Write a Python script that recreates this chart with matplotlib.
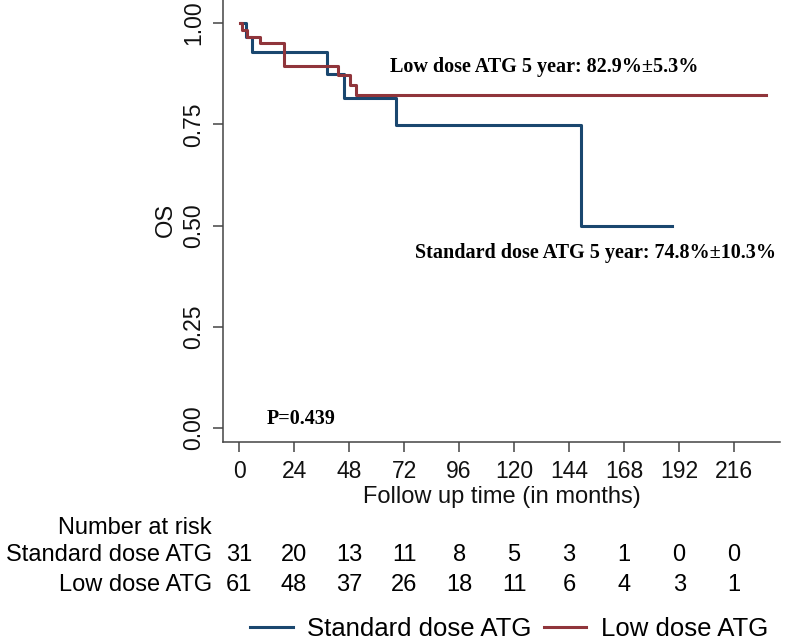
import numpy as np
import matplotlib
matplotlib.use("Agg")
import matplotlib.pyplot as plt
from matplotlib.lines import Line2D
from matplotlib.transforms import blended_transform_factory

# step curves (time in months, survival)
std_t = [0.7, 2.9, 5.8, 38.3, 46.0, 68.4, 149.3, 189.0]
std_s = [1.0, 0.966, 0.929, 0.874, 0.814, 0.748, 0.499, 0.499]
low_t = [0.4, 1.2, 3.3, 9.2, 19.8, 43.0, 48.5, 51.1, 230.0]
low_s = [1.0, 0.983, 0.966, 0.950, 0.895, 0.872, 0.847, 0.823, 0.823]

risk_times = [0, 24, 48, 72, 96, 120, 144, 168, 192, 216]
risk_std = [31, 20, 13, 11, 8, 5, 3, 1, 0, 0]
risk_low = [61, 48, 37, 26, 18, 11, 6, 4, 3, 1]

blue = "#1a476f"
red = "#90353b"
W, H = 786, 641

plt.rcParams["font.family"] = ["Liberation Sans", "DejaVu Sans"]

fig = plt.figure(figsize=(W / 100, H / 100), dpi=100)
ax = fig.add_axes([223 / W, 1 - 442 / H, (780 - 223) / W, 442 / H])

ax.step(std_t, std_s, where="post", color=blue, lw=2.2)
ax.step(low_t, low_s, where="post", color=red, lw=2.2)

ax.set_xlim(-7.0, 236)
ax.set_ylim(-0.0346, 1.057)
ax.set_xticks(risk_times)
ax.set_yticks([0, 0.25, 0.5, 0.75, 1.0])
ax.set_yticklabels(["0.00", "0.25", "0.50", "0.75", "1.00"], rotation=90, va="center")
for s in ["top", "right"]:
    ax.spines[s].set_visible(False)
for s in ["left", "bottom"]:
    ax.spines[s].set_color("#444444")
    ax.spines[s].set_linewidth(1.1)
ax.tick_params(axis="both", length=7, width=1.1, color="#444444", labelsize=16.5,
               labelcolor="#111111")
ax.tick_params(axis="x", pad=6)
ax.tick_params(axis="y", pad=6)

ax.set_xlabel("Follow up time (in months)", fontsize=17, color="#111111")
ax.xaxis.set_label_coords(0.5, -0.1)
ax.set_ylabel("OS", fontsize=17, color="#111111")
ax.yaxis.set_label_coords(-0.082, 0.5 + 1.0 / 442)

serif = ["Liberation Serif", "DejaVu Serif"]
fig.text(390 / W, 1 - 67 / H, "Low dose ATG 5 year: 82.9%\u00b15.3%", family=serif,
         weight="bold", fontsize=14.5, ha="left", va="center")
fig.text(415 / W, 1 - 253 / H, "Standard dose ATG 5 year: 74.8%\u00b110.3%", family=serif,
         weight="bold", fontsize=14.5, ha="left", va="center")
fig.text(267 / W, 1 - 419 / H, "P=0.439", family=serif, weight="bold", fontsize=14.5,
         ha="left", va="center")

# number at risk table
tr = blended_transform_factory(ax.transData, fig.transFigure)
fig.text(212 / W, 1 - 528 / H, "Number at risk", fontsize=17, ha="right", va="center")
fig.text(212 / W, 1 - 555 / H, "Standard dose ATG", fontsize=17, ha="right", va="center")
fig.text(212 / W, 1 - 585 / H, "Low dose ATG", fontsize=17, ha="right", va="center")
for t, a, b in zip(risk_times, risk_std, risk_low):
    ax.text(t, 1 - 555 / H, str(a), transform=tr, fontsize=17, ha="center", va="center",
            clip_on=False)
    ax.text(t, 1 - 585 / H, str(b), transform=tr, fontsize=17, ha="center", va="center",
            clip_on=False)

handles = [Line2D([], [], color=blue, lw=2.2), Line2D([], [], color=red, lw=2.2)]
fig.legend(handles, ["Standard dose ATG", "Low dose ATG"], loc="center",
           bbox_to_anchor=(509 / W, 1 - 629 / H), ncol=2, frameon=False, fontsize=18.5,
           handlelength=1.65, handletextpad=0.55, columnspacing=0.5, borderpad=0,
           borderaxespad=0)

fig.savefig("out.png", dpi=100)
